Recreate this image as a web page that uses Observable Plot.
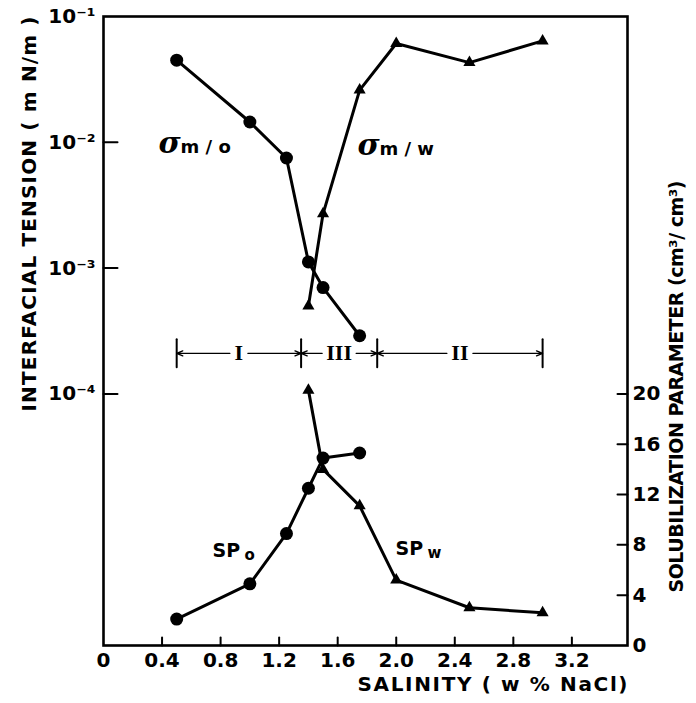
<!DOCTYPE html>
<html>
<head>
<meta charset="utf-8">
<script src="https://cdn.jsdelivr.net/npm/d3@7"></script>
<script src="https://cdn.jsdelivr.net/npm/@observablehq/plot@0.6"></script>
<style>
  html, body { margin: 0; padding: 0; background: #fff; }
</style>
</head>
<body>
<div id="chart"></div>
<script>
// Microemulsion salinity scan: interfacial tensions and solubilization parameters
const salinityO = [0.5, 1.0, 1.25, 1.4, 1.5, 1.75];          // w% NaCl
const tensionMO = [0.045, 0.0145, 0.0075, 0.00112, 0.0007, 0.00029]; // mN/m
const solubO    = [2.1, 4.9, 8.9, 12.5, 14.9, 15.3];          // cm3/cm3

const salinityW = [1.4, 1.5, 1.75, 2.0, 2.5, 3.0];
const tensionMW = [0.0005, 0.0027, 0.026, 0.061, 0.043, 0.064];
const solubW    = [20.3, 14.0, 11.1, 5.2, 3.0, 2.6];

// Phase regions (Winsor I, III, II) and where the bracket is drawn on the tension axis
const phaseBounds = [0.5, 1.35, 1.87, 3.0];
const phaseNames = ["I", "III", "II"];
const phaseLevel = 2.1e-4;

const salinityTicks = [0, 0.4, 0.8, 1.2, 1.6, 2.0, 2.4, 2.8, 3.2];
const tensionTicks = [1e-4, 1e-3, 1e-2, 1e-1];
const solubTicks = [0, 4, 8, 12, 16, 20];

// The frame holds five decades of tension (1e-6 … 1e-1); the solubilization
// parameter shares it linearly, 0 … 50, so one unit is a tenth of a decade.
const spToY = v => Math.pow(10, -6 + v / 10);

const supMap = {"-": "\u207B", "0": "\u2070", "1": "\u00B9", "2": "\u00B2", "3": "\u00B3", "4": "\u2074"};
const powerLabel = d => "10" + String(Math.round(Math.log10(d))).split("").map(c => supMap[c]).join("");

const rowsO = salinityO.map((s, i) => ({s, t: tensionMO[i], sp: solubO[i]}));
const rowsW = salinityW.map((s, i) => ({s, t: tensionMW[i], sp: solubW[i]}));
const phases = phaseNames.map((name, i) => ({
  name, lo: phaseBounds[i], hi: phaseBounds[i + 1], mid: (phaseBounds[i] + phaseBounds[i + 1]) / 2
}));
const labelHalf = {"I": 9, "III": 17, "II": 13};

// plain straight stroke for tick marks and bracket ends
const stem = {draw(context, l) { context.moveTo(0, 0); context.lineTo(0, -l); }};

const sans = "DejaVu Sans, sans-serif";
const ink = "#000";

const arrows = phases.flatMap(p => ["lo", "hi"].map(end =>
  Plot.arrow([p], {x1: "mid", x2: end, y1: phaseLevel, y2: phaseLevel, insetStart: labelHalf[p.name],
    headLength: 7, headAngle: 45, bend: 0, stroke: ink, strokeWidth: 1.4})
));

const chart = Plot.plot({
  width: 696,
  height: 703,
  marginLeft: 103,
  marginRight: 69,
  marginTop: 16,
  marginBottom: 58,
  style: {fontFamily: sans, fontWeight: "bold", color: ink, background: "#fff"},
  x: {domain: [0, 3.58]},
  y: {type: "log", domain: [1e-6, 1e-1]},
  marks: [
    Plot.frame({stroke: ink, strokeWidth: 2.6}),

    // axes: labels from the axis marks, inward ticks as short strokes
    Plot.axisX(salinityTicks, {tickSize: 0, tickPadding: 7, label: null, fontSize: 20,
      tickFormat: d => d === 0 ? "0" : d.toFixed(1)}),
    Plot.vector(salinityTicks.slice(1), {x: d => d, frameAnchor: "bottom", anchor: "start",
      length: 8, rotate: 0, shape: stem, stroke: ink, strokeWidth: 2}),
    Plot.axisY(tensionTicks, {anchor: "left", tickSize: 0, tickPadding: 8, label: null, fontSize: 20,
      tickFormat: powerLabel}),
    Plot.vector(tensionTicks.slice(0, 3), {y: d => d, frameAnchor: "left", anchor: "start",
      length: 14, rotate: 90, shape: stem, stroke: ink, strokeWidth: 2}),
    // right-hand solubilization axis, labelled by value
    Plot.text(solubTicks, {y: d => spToY(d), text: d => String(d), frameAnchor: "right",
      textAnchor: "start", dx: 5, fontSize: 20}),
    Plot.vector(solubTicks.slice(1), {y: d => spToY(d), frameAnchor: "right", anchor: "start",
      length: 10, rotate: -90, shape: stem, stroke: ink, strokeWidth: 2}),

    // axis titles
    Plot.text(["INTERFACIAL TENSION ( m N/m )"], {frameAnchor: "top-left", rotate: -90, textAnchor: "end",
      dx: -82, dy: 0, fontSize: 20}),
    Plot.text(["SALINITY ( w % NaCl)"], {frameAnchor: "bottom-right", textAnchor: "end",
      dx: 0, dy: 45, fontSize: 20}),
    Plot.text(["SOLUBILIZATION PARAMETER (cm³/ cm³)"], {frameAnchor: "bottom-right", rotate: -90,
      textAnchor: "start", dx: 55, dy: -53, fontSize: 19}),

    // interfacial tensions (log axis)
    Plot.line(rowsO, {x: "s", y: "t", stroke: ink, strokeWidth: 3}),
    Plot.dot(rowsO, {x: "s", y: "t", r: 6.5, fill: ink}),
    Plot.line(rowsW, {x: "s", y: "t", stroke: ink, strokeWidth: 3}),
    Plot.dot(rowsW, {x: "s", y: "t", r: 4.5, symbol: "triangle", fill: ink}),

    // solubilization parameters (right linear axis)
    Plot.line(rowsO, {x: "s", y: d => spToY(d.sp), stroke: ink, strokeWidth: 3}),
    Plot.dot(rowsO, {x: "s", y: d => spToY(d.sp), r: 6.5, fill: ink}),
    Plot.line(rowsW, {x: "s", y: d => spToY(d.sp), stroke: ink, strokeWidth: 3}),
    Plot.dot(rowsW, {x: "s", y: d => spToY(d.sp), r: 4.5, symbol: "triangle", fill: ink}),

    // phase-region bracket
    ...arrows,
    Plot.vector(phaseBounds, {x: d => d, y: phaseLevel, anchor: "middle", length: 28, rotate: 0,
      shape: stem, stroke: ink, strokeWidth: 2}),
    Plot.text(phases, {x: "mid", y: phaseLevel, text: "name", fontFamily: "Liberation Serif, serif",
      fontWeight: "bold", fontSize: 22}),

    // curve labels
    Plot.text(["σ"], {x: 0.376, y: 0.0098, textAnchor: "start", fontFamily: "DejaVu Serif, serif",
      fontStyle: "italic", fontWeight: "bold", fontSize: 30}),
    Plot.text(["m / o"], {x: 0.376, y: 0.0098, textAnchor: "start", dx: 22, dy: 4, fontSize: 18}),
    Plot.text(["σ"], {x: 1.735, y: 0.0094, textAnchor: "start", fontFamily: "DejaVu Serif, serif",
      fontStyle: "italic", fontWeight: "bold", fontSize: 30}),
    Plot.text(["m / w"], {x: 1.735, y: 0.0094, textAnchor: "start", dx: 22, dy: 4, fontSize: 18}),
    Plot.text(["SP"], {x: 0.745, y: spToY(7.55), textAnchor: "start", fontSize: 19}),
    Plot.text(["o"], {x: 0.745, y: spToY(7.55), textAnchor: "start", dx: 32, dy: 5, fontSize: 15}),
    Plot.text(["SP"], {x: 1.995, y: spToY(7.7), textAnchor: "start", fontSize: 19}),
    Plot.text(["w"], {x: 1.995, y: spToY(7.7), textAnchor: "start", dx: 32, dy: 5, fontSize: 15})
  ]
});

// spread the axis titles over the lengths they occupy
const titleLengths = {
  "INTERFACIAL TENSION ( m N/m )": 395,
  "SALINITY ( w % NaCl)": 270,
  "SOLUBILIZATION PARAMETER (cm³/ cm³)": 412
};
d3.select(chart).selectAll("text").each(function () {
  const L = titleLengths[this.textContent];
  if (L) {
    this.setAttribute("textLength", L);
    this.setAttribute("lengthAdjust", "spacing");
  }
});

document.getElementById("chart").appendChild(chart);
</script>
</body>
</html>
